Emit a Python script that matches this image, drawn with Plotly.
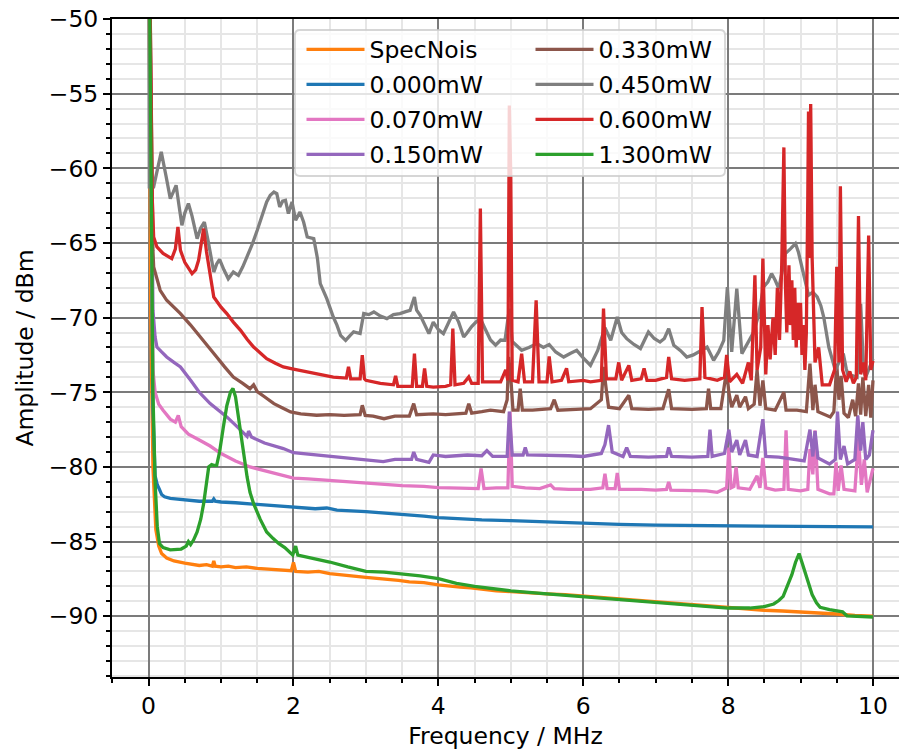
import plotly.graph_objects as go

# ---------------- data ----------------
specnois_f = [0, 0.03, 0.06, 0.1, 0.14, 0.18, 0.25, 0.35, 0.5, 0.6, 0.7, 0.8, 0.88, 0.9, 0.92, 1.0, 1.1,
              1.2, 1.35, 1.5, 1.65, 1.8, 1.97, 2.0, 2.03, 2.2, 2.35, 2.5, 2.65, 2.8, 3.0, 3.15, 3.3, 3.45,
              3.6, 3.8, 4.0, 4.15, 4.3, 4.45, 4.6, 4.8, 5.0, 5.25, 5.5, 5.75, 6.0, 6.25, 6.5, 6.75, 7.0,
              7.25, 7.5, 7.75, 8.0, 8.25, 8.5, 8.75, 9.0, 9.25, 9.5, 9.75, 10.0]
specnois_db = [-40, -70, -80, -84.2, -85.3, -85.8, -86.1, -86.3, -86.45, -86.5, -86.6, -86.55, -86.65,
               -86.3, -86.65, -86.7, -86.65, -86.75, -86.7, -86.8, -86.85, -86.9, -86.95, -86.4, -87.0,
               -87.05, -87.0, -87.15, -87.2, -87.3, -87.4, -87.45, -87.55, -87.6, -87.7, -87.75, -87.9,
               -88.0, -88.05, -88.1, -88.2, -88.3, -88.35, -88.45, -88.5, -88.55, -88.65, -88.75, -88.85,
               -88.95, -89.05, -89.1, -89.25, -89.3, -89.45, -89.5, -89.6, -89.65, -89.7, -89.8, -89.85,
               -89.95, -90.0]

mw000_f = [0, 0.03, 0.06, 0.09, 0.12, 0.15, 0.18, 0.22, 0.3, 0.4, 0.5, 0.7, 0.88, 0.9, 0.92, 1.0, 1.2,
           1.5, 1.8, 2.0, 2.3, 2.46, 2.6, 3.0, 3.3, 3.6, 3.8, 4.0, 4.3, 4.6, 5.0, 5.5, 6.0, 6.5, 7.0,
           7.5, 8.0, 8.5, 9.0, 9.5, 10.0]
mw000_db = [-40, -62, -76, -80.6, -81.2, -81.5, -81.85, -82.0, -82.1, -82.15, -82.2, -82.3, -82.3, -82.15,
            -82.3, -82.35, -82.4, -82.5, -82.65, -82.7, -82.8, -82.75, -82.9, -83.0, -83.1, -83.2, -83.3,
            -83.4, -83.5, -83.55, -83.6, -83.7, -83.8, -83.85, -83.9, -83.92, -83.95, -83.97, -83.98,
            -84.0, -84.02]

mw070_f = [0, 0.03, 0.06, 0.09, 0.14, 0.2, 0.3, 0.37, 0.41, 0.45, 0.55, 0.7, 0.85, 1.0, 1.2, 1.4, 1.6,
           1.8, 2.0, 2.2, 2.5, 2.8, 3.0, 3.3, 3.5, 3.8, 4.0, 4.3, 4.55, 4.59, 4.63, 4.8, 4.96, 4.99, 5.02,
           5.2, 5.4, 5.55, 5.6, 5.8, 6.1, 6.27, 6.3, 6.33, 6.44, 6.47, 6.5, 6.8, 7.0, 7.15, 7.18, 7.21,
           7.5, 7.7, 7.85, 7.98, 8.01, 8.04, 8.08, 8.11, 8.14, 8.3, 8.4, 8.44, 8.48, 8.52, 8.65, 8.77,
           8.8, 8.83, 9.0, 9.1, 9.13, 9.17, 9.2, 9.24, 9.4, 9.46, 9.49, 9.52, 9.56, 9.6, 9.75, 9.8, 9.84,
           9.88, 9.92, 10.0]
mw070_db = [-40, -60, -73.5, -75.0, -75.8, -76.2, -76.8, -77.0, -76.55, -77.3, -77.8, -78.2, -78.6, -79.1,
            -79.6, -80.0, -80.25, -80.5, -80.75, -80.8, -80.9, -81.0, -81.1, -81.15, -81.25, -81.3,
            -81.38, -81.42, -81.45, -80.1, -81.45, -81.4, -81.4, -76.3, -81.3, -81.4, -81.45, -81.2,
            -81.45, -81.5, -81.5, -81.4, -80.45, -81.45, -81.45, -80.4, -81.5, -81.5, -81.55, -81.5,
            -81.0, -81.55, -81.55, -81.6, -81.7, -81.4, -78.7, -81.4, -81.3, -80.0, -81.4, -81.5, -80.6,
            -81.4, -79.4, -81.4, -81.55, -81.5, -77.55, -81.5, -81.6, -81.5, -78.8, -80.5, -77.55, -81.5,
            -81.8, -81.8, -79.7, -81.6, -79.9, -81.5, -81.6, -78.1, -81.2, -79.5, -81.7, -80.1]

mw150_f = [0, 0.03, 0.06, 0.09, 0.115, 0.18, 0.25, 0.35, 0.44, 0.58, 0.7, 0.85, 1.0, 1.08, 1.2, 1.31,
           1.36, 1.38, 1.42, 1.6, 1.86, 2.0, 2.3, 2.55, 2.8, 3.0, 3.24, 3.4, 3.63, 3.66, 3.7, 3.87, 3.93,
           4.1, 4.4, 4.6, 4.67, 4.75, 4.95, 4.98, 5.02, 5.17, 5.2, 5.23, 5.5, 5.8, 6.0, 6.25, 6.3, 6.35,
           6.4, 6.55, 6.6, 6.65, 6.9, 7.15, 7.18, 7.22, 7.5, 7.72, 7.75, 7.78, 7.95, 8.01, 8.05, 8.12,
           8.16, 8.24, 8.28, 8.4, 8.48, 8.52, 8.7, 8.9, 9.05, 9.13, 9.17, 9.2, 9.24, 9.4, 9.48, 9.51,
           9.55, 9.6, 9.65, 9.75, 9.79, 9.83, 9.86, 9.9, 9.95, 10.0]
mw150_db = [-40, -58, -69.5, -71.3, -71.97, -72.3, -72.64, -73.0, -73.3, -74.2, -75.0, -75.76, -76.3,
            -76.65, -77.2, -77.77, -77.95, -77.6, -78.0, -78.4, -78.77, -79.05, -79.2, -79.33, -79.4,
            -79.5, -79.65, -79.5, -79.5, -79.0, -79.5, -79.7, -79.2, -79.3, -79.2, -79.25, -78.9, -79.3,
            -79.3, -76.3, -79.2, -79.2, -78.7, -79.2, -79.2, -79.25, -79.3, -79.1, -78.5, -77.2, -79.0,
            -79.3, -78.7, -79.3, -79.35, -79.3, -78.7, -79.3, -79.35, -79.3, -77.5, -79.3, -79.1, -77.5,
            -79.0, -78.2, -79.2, -78.2, -79.2, -79.3, -76.8, -79.3, -79.35, -79.5, -79.6, -77.5, -79.3,
            -77.6, -79.4, -79.8, -79.5, -76.3, -79.5, -78.6, -79.8, -79.5, -76.55, -78.9, -77.0, -79.5,
            -79.2, -77.55]

mw330_f = [0, 0.03, 0.06, 0.07, 0.115, 0.16, 0.25, 0.35, 0.44, 0.58, 0.72, 0.83, 0.94, 1.05, 1.17, 1.3,
           1.4, 1.45, 1.5, 1.6, 1.73, 1.85, 1.96, 2.1, 2.32, 2.5, 2.7, 2.92, 2.95, 2.99, 3.1, 3.25, 3.4,
           3.6, 3.66, 3.7, 3.93, 4.1, 4.38, 4.42, 4.46, 4.6, 4.72, 4.9, 4.95, 4.97, 5.0, 5.03, 5.1, 5.13,
           5.16, 5.3, 5.55, 5.6, 5.65, 5.9, 6.1, 6.25, 6.28, 6.32, 6.35, 6.5, 6.63, 6.67, 6.9, 7.1, 7.18,
           7.22, 7.5, 7.7, 7.73, 7.76, 7.9, 7.98, 8.01, 8.05, 8.12, 8.16, 8.24, 8.28, 8.36, 8.4, 8.44,
           8.48, 8.52, 8.65, 8.77, 8.8, 8.95, 9.08, 9.13, 9.17, 9.2, 9.24, 9.35, 9.41, 9.46, 9.5, 9.53,
           9.56, 9.6, 9.66, 9.72, 9.76, 9.8, 9.83, 9.86, 9.9, 9.94, 9.97, 10.0]
mw330_db = [-40, -55, -65.5, -66.6, -67.5, -68.17, -68.84, -69.3, -69.73, -70.5, -71.3, -72.0, -72.64,
            -73.3, -73.98, -74.4, -74.76, -74.5, -74.95, -75.3, -75.76, -76.05, -76.32, -76.45, -76.54,
            -76.5, -76.55, -76.5, -75.87, -76.55, -76.6, -76.77, -76.6, -76.6, -75.76, -76.5, -76.45,
            -76.5, -76.4, -75.76, -76.4, -76.3, -76.2, -76.3, -75.5, -72.64, -74.0, -76.2, -76.2, -74.76,
            -76.2, -76.2, -76.1, -75.5, -76.2, -76.15, -76.1, -75.5, -73.3, -74.9, -76.0, -76.1, -75.2,
            -76.1, -76.15, -76.1, -74.8, -76.1, -76.15, -76.1, -74.76, -76.1, -76.1, -73.53, -75.0,
            -76.0, -75.2, -76.0, -75.3, -76.1, -75.8, -73.5, -75.9, -74.2, -76.1, -76.2, -75.0, -76.2,
            -76.2, -76.3, -73.08, -76.2, -74.5, -76.3, -76.5, -76.66, -76.3, -73.1, -75.5, -73.9, -76.4,
            -76.7, -75.5, -76.6, -74.4, -76.5, -74.0, -76.6, -74.5, -76.7, -74.2]

mw450_f = [0, 0.01, 0.07, 0.12, 0.175, 0.24, 0.3, 0.34, 0.38, 0.42, 0.46, 0.5, 0.55, 0.6, 0.67, 0.72,
           0.77, 0.82, 0.9, 0.94, 0.98, 1.04, 1.1, 1.17, 1.24, 1.3, 1.36, 1.43, 1.5, 1.56, 1.63, 1.68,
           1.73, 1.77, 1.81, 1.85, 1.89, 1.93, 1.98, 2.03, 2.09, 2.14, 2.19, 2.28, 2.33, 2.37, 2.46, 2.55,
           2.6, 2.65, 2.72, 2.78, 2.83, 2.92, 2.97, 3.04, 3.11, 3.2, 3.29, 3.38, 3.47, 3.55, 3.61, 3.67,
           3.7, 3.75, 3.82, 3.87, 3.93, 4.0, 4.07, 4.14, 4.21, 4.28, 4.35, 4.39, 4.46, 4.52, 4.58, 4.65,
           4.72, 4.79, 4.86, 4.92, 4.98, 5.02, 5.08, 5.15, 5.25, 5.36, 5.45, 5.53, 5.62, 5.73, 5.82, 5.91,
           6.0, 6.1, 6.2, 6.3, 6.38, 6.47, 6.53, 6.6, 6.7, 6.79, 6.9, 6.98, 7.06, 7.12, 7.18, 7.25, 7.34,
           7.43, 7.52, 7.62, 7.71, 7.8, 7.87, 7.94, 7.99, 8.05, 8.12, 8.19, 8.28, 8.35, 8.42, 8.49, 8.55,
           8.6, 8.65, 8.7, 8.75, 8.79, 8.86, 8.93, 8.97, 9.02, 9.06, 9.11, 9.17, 9.23, 9.28, 9.32, 9.39,
           9.44, 9.48, 9.53, 9.59, 9.63, 9.66, 9.72, 9.78, 9.83, 9.87, 9.9, 9.95, 10.0]
mw450_db = [-40, -61.25, -61.25, -60.0, -58.9, -60.5, -62.03, -61.6, -61.14, -62.5, -63.82, -63.0, -62.36,
            -63.2, -64.71, -64.0, -63.6, -64.8, -66.95, -66.4, -66.1, -66.8, -67.4, -66.95, -67.17, -66.6,
            -65.94, -65.1, -64.15, -63.3, -62.25, -61.8, -61.59, -61.7, -62.59, -62.2, -62.14, -63.03,
            -62.25, -63.48, -62.93, -63.6, -64.6, -64.71, -66.0, -67.72, -68.73, -69.96, -70.5, -71.19,
            -71.52, -71.2, -70.96, -71.07, -69.73, -69.8, -69.62, -69.9, -70.07, -69.8, -69.73, -69.6,
            -69.51, -68.62, -69.5, -69.85, -70.5, -71.07, -70.3, -70.8, -71.07, -70.4, -69.62, -70.3,
            -71.3, -71.07, -70.6, -70.3, -70.07, -70.8, -71.5, -71.85, -71.5, -71.52, -69.4, -71.6, -71.9,
            -72.19, -72.0, -71.74, -72.0, -71.8, -72.3, -72.64, -72.4, -72.19, -72.7, -73.2, -72.2,
            -70.67, -71.52, -69.96, -71.0, -71.41, -71.8, -72.07, -70.96, -71.4, -71.64, -71.4, -70.74,
            -71.85, -72.2, -72.64, -72.5, -72.19, -71.97, -72.86, -72.3, -71.52, -67.95, -72.3, -68.06,
            -72.41, -71.64, -71.0, -69.85, -67.95, -67.6, -67.05, -67.5, -68.06, -66.8, -65.71, -65.4,
            -65.04, -65.6, -66.61, -67.6, -68.5, -68.3, -68.62, -69.2, -69.96, -71.97, -72.9, -73.53,
            -73.0, -72.41, -73.4, -73.98, -73.9, -74.0, -69.07, -73.5, -73.98, -73.3, -72.75]

mw600_f = [0, 0.03, 0.05, 0.07, 0.115, 0.2, 0.25, 0.32, 0.37, 0.405,
           0.44, 0.5, 0.6, 0.65, 0.69, 0.73, 0.76, 0.8, 0.83, 0.87,
           0.9, 1.0, 1.08, 1.17, 1.27, 1.36, 1.45, 1.55, 1.63, 1.75,
           1.86, 2.0, 2.09, 2.3, 2.55, 2.73, 2.76, 2.79, 2.92, 2.95,
           2.98, 3.0, 3.2, 3.38, 3.41, 3.44, 3.64, 3.67, 3.7, 3.78,
           3.81, 3.84, 3.93, 4.1, 4.17, 4.2, 4.23, 4.35, 4.42, 4.46,
           4.55, 4.58, 4.61, 4.75, 4.86, 4.93, 4.96, 4.98, 5.0, 5.02,
           5.1, 5.15, 5.19, 5.3, 5.35, 5.39, 5.5, 5.53, 5.57, 5.7,
           5.77, 5.8, 6.0, 6.1, 6.25, 6.28, 6.32, 6.45, 6.49, 6.53,
           6.63, 6.67, 6.8, 6.84, 6.88, 7.0, 7.15, 7.18, 7.22, 7.4,
           7.61, 7.64, 7.68, 7.85, 7.95, 7.98, 8.02, 8.12, 8.2, 8.28,
           8.32, 8.37, 8.4, 8.45, 8.48, 8.52, 8.55, 8.58, 8.62, 8.65,
           8.68, 8.71, 8.74, 8.77, 8.79, 8.81, 8.84, 8.86, 8.88, 8.9,
           8.92, 8.94, 8.96, 8.98, 9.0, 9.02, 9.04, 9.06, 9.08, 9.1,
           9.11, 9.12, 9.13, 9.14, 9.16, 9.18, 9.2, 9.25, 9.3, 9.4,
           9.47, 9.5, 9.53, 9.55, 9.58, 9.63, 9.68, 9.73, 9.77, 9.8,
           9.83, 9.87, 9.9, 9.94, 9.97, 10.0]
mw600_db = [-40, -52, -62, -64.6, -65.27, -65.7, -65.83, -66.05, -65.4, -63.93,
            -65.5, -66.3, -67.05, -66.8, -66.16, -65.0, -64.04, -65.6, -66.6, -67.9,
            -68.62, -69.3, -69.73, -70.3, -70.85, -71.45, -71.97, -72.4, -72.75, -73.05,
            -73.3, -73.45, -73.53, -73.75, -73.98, -74.05, -73.3, -74.1, -74.1, -72.52,
            -74.1, -74.2, -74.4, -74.5, -73.9, -74.6, -74.6, -72.41, -74.6, -74.6,
            -73.4, -74.6, -74.65, -74.6, -74.5, -70.74, -74.5, -74.4, -73.97, -74.4,
            -74.4, -62.7, -74.3, -74.3, -74.3, -73.5, -74.2, -55.8, -60.5, -74.2,
            -74.3, -72.41, -74.3, -74.3, -68.84, -74.3, -74.3, -72.6, -74.3, -74.2,
            -73.4, -74.3, -74.2, -74.3, -74.2, -69.4, -74.1, -74.1, -73.0, -74.2,
            -73.2, -74.2, -74.1, -73.4, -74.2, -74.2, -74.0, -72.64, -74.1, -74.2,
            -74.1, -69.3, -74.0, -74.2, -74.0, -72.5, -74.3, -73.8, -74.4, -73.0,
            -74.2, -67.17, -73.5, -72.0, -66.05, -73.8, -70.5, -72.8, -70.0, -72.5,
            -68.0, -71.5, -66.5, -58.6, -67.5, -71.0, -66.5, -70.5, -67.5, -71.5,
            -68.0, -72.0, -69.0, -71.5, -69.0, -72.5, -70.5, -73.5, -71.0, -62.0,
            -56.2, -66.0, -60.5, -55.7, -66.0, -70.5, -73.0, -72.0, -74.5, -74.5,
            -73.5, -66.6, -73.0, -61.2, -73.5, -74.3, -73.6, -74.4, -74.0, -63.2,
            -73.8, -73.0, -74.2, -64.5, -73.5, -72.9]

mw1300_f = [0, 0.03, 0.06, 0.09, 0.12, 0.15, 0.2, 0.3, 0.45, 0.52, 0.55, 0.58, 0.62, 0.67, 0.72, 0.76,
            0.8, 0.83, 0.87, 0.9, 0.94, 0.98, 1.03, 1.08, 1.13, 1.165, 1.2, 1.24, 1.27, 1.31, 1.36, 1.4,
            1.45, 1.54, 1.63, 1.72, 1.8, 1.88, 1.95, 1.99, 2.01, 2.03, 2.06, 2.2, 2.35, 2.5, 2.75, 3.0,
            3.25, 3.5, 3.75, 4.0, 4.25, 4.5, 4.75, 5.0, 5.5, 6.0, 6.5, 7.0, 7.5, 8.0, 8.3, 8.5, 8.63,
            8.7, 8.76, 8.82, 8.88, 8.93, 8.98, 9.02, 9.07, 9.11, 9.16, 9.22, 9.27, 9.4, 9.5, 9.58, 9.64,
            9.8, 10.0]
mw1300_db = [-40, -60, -75, -81, -84.0, -85.13, -85.4, -85.55, -85.5, -85.3, -85.0, -85.2, -84.9, -84.36,
             -83.5, -82.46, -81.2, -80.0, -79.85, -79.9, -79.9, -79.0, -77.4, -75.9, -75.0, -74.75,
             -75.3, -76.6, -77.75, -79.2, -80.67, -81.7, -82.46, -83.5, -84.36, -84.8, -85.14, -85.4,
             -85.7, -85.9, -85.6, -85.3, -85.9, -86.04, -86.2, -86.37, -86.7, -87.0, -87.05, -87.15,
             -87.3, -87.48, -87.8, -88.0, -88.15, -88.3, -88.5, -88.7, -88.9, -89.1, -89.3, -89.45,
             -89.45, -89.35, -89.18, -88.95, -88.67, -88.0, -87.22, -86.4, -85.8, -86.4, -87.2, -87.9,
             -88.55, -89.1, -89.4, -89.55, -89.65, -89.7, -89.97, -90.0, -90.05]

names = ["SpecNois", "0.000mW", "0.070mW", "0.150mW", "0.330mW", "0.450mW", "0.600mW", "1.300mW"]
freqs = [specnois_f, mw000_f, mw070_f, mw150_f, mw330_f, mw450_f, mw600_f, mw1300_f]
levels = [specnois_db, mw000_db, mw070_db, mw150_db, mw330_db, mw450_db, mw600_db, mw1300_db]

# ---------------- styling ----------------
colors = ["#ff7f0e", "#1f77b4", "#e377c2", "#9467bd", "#8c564b", "#7f7f7f", "#d62728", "#2ca02c"]
legend_ids = ["legend"] * 4 + ["legend2"] * 4

W, H = 899, 751
ML, MR, MT, MB = 112, 0, 19, 74
PW, PH = W - ML - MR, H - MT - MB
X_LO, PX_PER_MHZ = -0.505, 72.44
x_range = [X_LO, X_LO + PW / PX_PER_MHZ]
y_range = [-94.07, -50]
FONT = "DejaVu Sans"
FS = 23.5

fig = go.Figure()
for name, f, db, c, lg in zip(names, freqs, levels, colors, legend_ids):
    n = min(len(f), len(db))
    fig.add_trace(go.Scatter(x=f[:n], y=db[:n], mode="lines", name=name, legend=lg, legendgroup=name,
                             line=dict(color=c, width=3.3), hoverinfo="skip"))


def to_paper(px, py):
    return (px - ML) / PW, 1 - (py - MT) / PH


def rounded_box(x0, y0, x1, y1, r):
    pts = [("M", x0 + r, y0), ("L", x1 - r, y0), ("Q", x1, y0, x1, y0 + r), ("L", x1, y1 - r),
           ("Q", x1, y1, x1 - r, y1), ("L", x0 + r, y1), ("Q", x0, y1, x0, y1 - r), ("L", x0, y0 + r),
           ("Q", x0, y0, x0 + r, y0)]
    out = []
    for p in pts:
        cmd, coords = p[0], p[1:]
        s = []
        for i in range(0, len(coords), 2):
            a, b = to_paper(coords[i], coords[i + 1])
            s.append(f"{a:.5f},{b:.5f}")
        out.append(cmd + " ".join(s))
    return " ".join(out) + " Z"


fig.add_shape(type="path", xref="paper", yref="paper", path=rounded_box(295, 30, 725, 176, 5),
              fillcolor="rgba(255,255,255,0.8)", line=dict(color="rgba(204,204,204,0.8)", width=1.8),
              layer="above")

common_axis = dict(
    showline=True, linecolor="black", linewidth=2,
    ticks="outside", ticklen=7, tickwidth=1.8, tickcolor="black",
    showgrid=True, gridcolor="#7b7b7b", gridwidth=1.6, zeroline=False,
    tickfont=dict(family=FONT, size=FS, color="black"),
)

legend_common = dict(font=dict(family=FONT, size=FS, color="black"), bgcolor="rgba(0,0,0,0)",
                     borderwidth=0, xanchor="left", yanchor="top", itemwidth=58,
                     tracegroupgap=1.45, orientation="v")

lx1, ly = to_paper(301.5, 27.5)
lx2, _ = to_paper(530.5, 27.5)

fig.update_layout(
    width=W, height=H,
    margin=dict(l=ML, r=MR, t=MT, b=MB, autoexpand=False),
    paper_bgcolor="white", plot_bgcolor="white",
    font=dict(family=FONT, size=FS, color="black"),
    xaxis=dict(range=x_range, dtick=2, tick0=0, mirror=True,
               minor=dict(dtick=0.5, tick0=0, ticks="outside", ticklen=4, tickwidth=1.5,
                          tickcolor="black", showgrid=True, gridcolor="#e6e6e6", gridwidth=1.6),
               title=dict(text="Frequency / MHz", font=dict(family=FONT, size=FS, color="black"),
                          standoff=8),
               **common_axis),
    yaxis=dict(range=y_range, dtick=5, tick0=-50,
               minor=dict(dtick=1, tick0=-50, ticks="outside", ticklen=4, tickwidth=1.5,
                          tickcolor="black", showgrid=True, gridcolor="#e6e6e6", gridwidth=1.6),
               title=dict(text="Amplitude / dBm", font=dict(family=FONT, size=FS, color="black"),
                          standoff=8),
               **common_axis),
    legend=dict(x=lx1, y=ly, **legend_common),
    legend2=dict(x=lx2, y=ly, **legend_common),
    showlegend=True,
)

fig.write_html("out.html", config={"displayModeBar": False})
